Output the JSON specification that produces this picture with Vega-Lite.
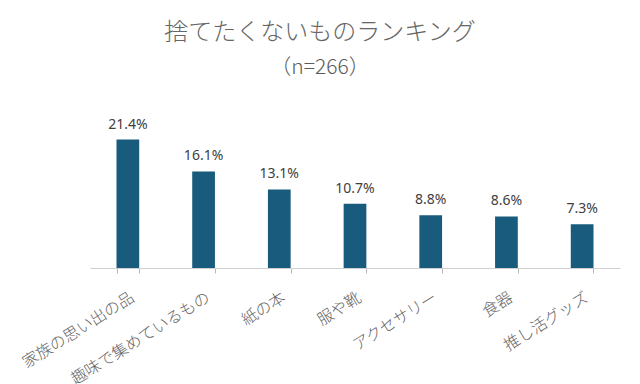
{
  "$schema": "https://vega.github.io/schema/vega-lite/v6.json",
  "width": 530,
  "height": 150,
  "autosize": {"type": "none"},
  "padding": {"left": 90, "top": 118, "right": 20, "bottom": 116},
  "background": "white",
  "config": {"view": {"stroke": null}},
  "title": {
    "text": "捨てたくないものランキング",
    "subtitle": "（n=266）",
    "anchor": "middle",
    "dx": -35,
    "offset": 40,
    "font": "Noto Sans CJK JP",
    "fontSize": 24,
    "fontWeight": 300,
    "color": "#666666",
    "subtitleFont": "Noto Sans CJK JP",
    "subtitleFontSize": 21,
    "subtitleFontWeight": 300,
    "subtitleColor": "#595959",
    "subtitlePadding": 12
  },
  "data": {
    "values": [
      {"item": "家族の思い出の品", "share": 0.214},
      {"item": "趣味で集めているもの", "share": 0.161},
      {"item": "紙の本", "share": 0.131},
      {"item": "服や靴", "share": 0.107},
      {"item": "アクセサリー", "share": 0.088},
      {"item": "食器", "share": 0.086},
      {"item": "推し活グッズ", "share": 0.073}
    ]
  },
  "encoding": {
    "x": {
      "field": "item",
      "type": "nominal",
      "sort": null,
      "scale": {"paddingInner": 0.7, "paddingOuter": 0.35},
      "axis": {
        "title": null,
        "labelAngle": -32,
        "labelAlign": "right",
        "labelBaseline": "top",
        "labelFont": "Noto Sans CJK JP",
        "labelFontSize": 16,
        "labelFontWeight": 300,
        "labelColor": "#666666",
        "labelPadding": 16,
        "labelBound": false,
        "tickBand": "extent",
        "ticks": true,
        "tickColor": "#b8b8b8",
        "tickSize": 5,
        "tickWidth": 1,
        "domainColor": "#d0d0d0"
      }
    },
    "y": {
      "field": "share",
      "type": "quantitative",
      "scale": {"domain": [0, 0.25]},
      "axis": null
    }
  },
  "layer": [
    {"mark": {"type": "bar", "color": "#195b7d"}},
    {
      "mark": {"type": "text", "baseline": "bottom", "dy": -8, "font": "Noto Sans", "fontSize": 14, "color": "#404040"},
      "encoding": {"text": {"field": "share", "type": "quantitative", "format": ".1%"}}
    }
  ]
}
